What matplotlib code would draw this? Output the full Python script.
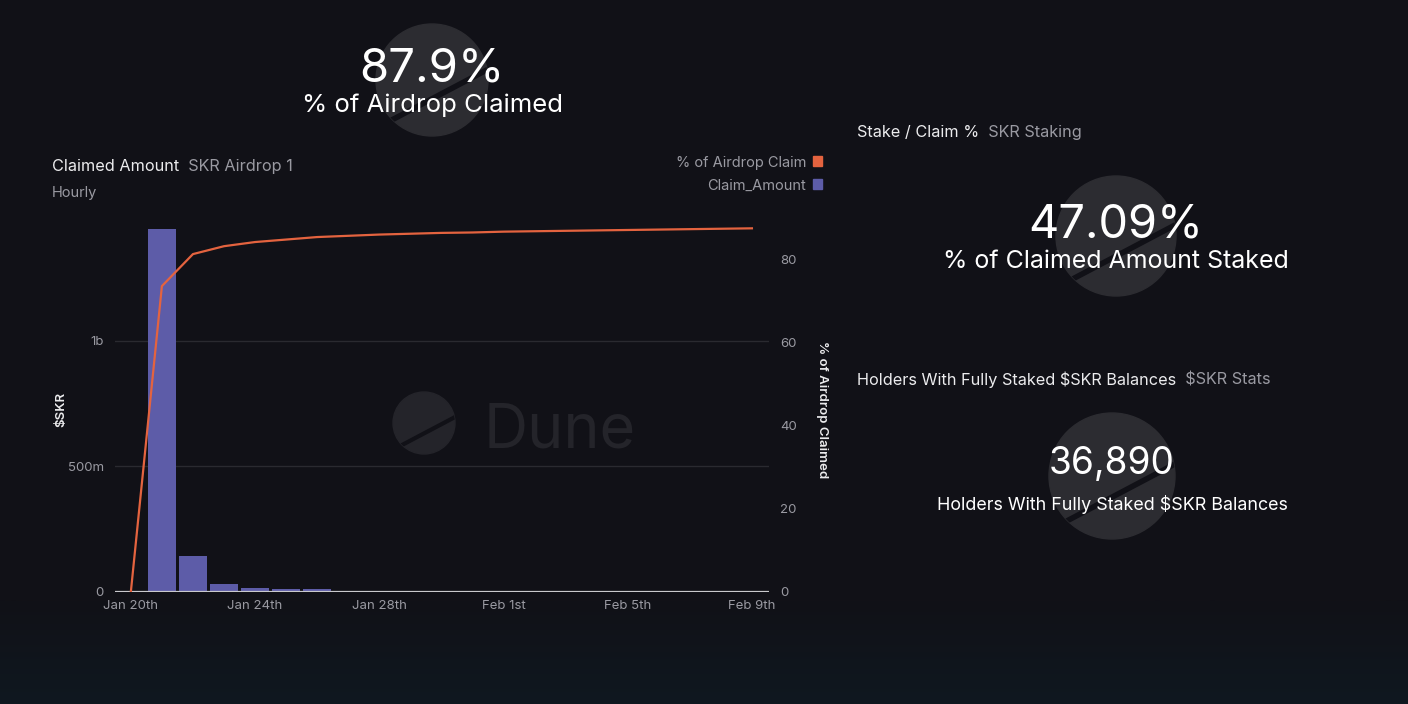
import numpy as np
import matplotlib
matplotlib.use("Agg")
import matplotlib.pyplot as plt
from matplotlib.patches import Circle, Rectangle

plt.rcParams['font.family'] = ['Inter', 'DejaVu Sans']

# --- data ---
days = ["Jan 20", "Jan 21", "Jan 22", "Jan 23", "Jan 24", "Jan 25", "Jan 26",
        "Jan 27", "Jan 28", "Jan 29", "Jan 30", "Jan 31", "Feb 1", "Feb 2",
        "Feb 3", "Feb 4", "Feb 5", "Feb 6", "Feb 7", "Feb 8", "Feb 9"]
claim_amount = [0, 1.446e9, 0.143e9, 0.032e9, 0.015e9, 0.010e9, 0.011e9,
                0.004e9, 0.004e9, 0.002e9, 0.0015e9, 0.0015e9, 0.0012e9, 0.0012e9,
                0.001e9, 0.001e9, 0.001e9, 0.001e9, 0.001e9, 0.001e9, 0.001e9]
pct_claimed = [0, 73.6, 81.3, 83.2, 84.2, 84.8, 85.4, 85.7, 86.0, 86.2, 86.4,
               86.5, 86.7, 86.8, 86.9, 87.0, 87.1, 87.2, 87.3, 87.4, 87.5]
xtick_idx = [0, 4, 8, 12, 16, 20]
xtick_labels = ["Jan 20th", "Jan 24th", "Jan 28th", "Feb 1st", "Feb 5th", "Feb 9th"]
left_ticks = [0, 5e8, 1e9]
left_labels = ["0", "500m", "1b"]
right_ticks = [0, 20, 40, 60, 80]

counters = [
    ("87.9%", "% of Airdrop Claimed"),
    ("47.09%", "% of Claimed Amount Staked"),
    ("36,890", "Holders With Fully Staked \\$SKR Balances"),
]

BG = "#111117"
WHITE = "#ececee"
GRAY = "#9a9aa2"
BAR = "#5d5ca8"
LINE = "#e4633f"
W, H = 1408, 704

fig = plt.figure(figsize=(W / 100, H / 100), dpi=100, facecolor=BG)

# background layer in pixel coordinates (y down)
bg = fig.add_axes([0, 0, 1, 1])
bg.set_xlim(0, W)
bg.set_ylim(H, 0)
bg.axis("off")
bg.set_facecolor(BG)

# subtle bluish fade at the bottom
grad = np.linspace(0, 1, 100)[:, None]
bg.imshow(grad, extent=(0, W, H, 600), cmap=matplotlib.colors.LinearSegmentedColormap.from_list(
    "fade", [BG, "#0f1820"]), aspect="auto", zorder=0)


def dune_logo(cx, cy, r, color, lw):
    c = Circle((cx, cy), r, color=color, zorder=1)
    bg.add_patch(c)
    p1 = np.array([-0.71, 0.71])
    p2 = np.array([0.94, -0.16])
    d = p2 - p1
    a = p1 - 0.6 * d
    b = p2 + 0.6 * d
    ln, = bg.plot([cx + a[0] * r, cx + b[0] * r], [cy + a[1] * r, cy + b[1] * r],
                  color=BG, lw=lw, zorder=2, solid_capstyle="butt")
    ln.set_clip_path(c)


# counter watermarks
dune_logo(432, 80, 56, "#2c2c31", 4)
dune_logo(1116, 236, 60, "#2c2c31", 4)
dune_logo(1112, 476, 63, "#2c2c31", 4)
# chart watermark
dune_logo(424, 423, 31, "#24242a", 3)
bg.text(484, 447, "Dune", fontsize=44, color="#24242a", ha="left", va="baseline", zorder=1)

# counters
bg.text(432, 82, counters[0][0], fontsize=34, color="white", ha="center", va="baseline", zorder=3)
bg.text(432, 112, counters[0][1], fontsize=18.5, color="white", ha="center", va="baseline", zorder=3)
bg.text(1116, 237, counters[1][0], fontsize=33.8, color="white", ha="center", va="baseline", zorder=3)
bg.text(1116, 268, counters[1][1], fontsize=18, color="white", ha="center", va="baseline", zorder=3)
bg.text(1112, 474, counters[2][0], fontsize=26.7, color="white", ha="center", va="baseline", zorder=3)
bg.text(1112, 510, counters[2][1], fontsize=12.9, color="white", ha="center", va="baseline", zorder=3)


def header(x, y, title, sub):
    t = bg.text(x, y, title, fontsize=11.7, color=WHITE, ha="left", va="baseline", zorder=3)
    bg.annotate("  " + sub, xy=(1, 0), xycoords=t, fontsize=11.7, color=GRAY,
                ha="left", va="bottom", zorder=3)


header(52, 171, "Claimed Amount", "SKR Airdrop 1")
bg.text(52, 197, "Hourly", fontsize=10.5, color=GRAY, ha="left", va="baseline")
header(857, 137, "Stake / Claim %", "SKR Staking")
header(857, 385, "Holders With Fully Staked \\$SKR Balances", "\\$SKR Stats")

# legend
bg.text(806, 167, "% of Airdrop Claim", fontsize=10.5, color=GRAY, ha="right", va="baseline")
bg.text(806, 190, "Claim_Amount", fontsize=10.5, color=GRAY, ha="right", va="baseline")
bg.add_patch(Rectangle((813, 156), 9, 10, color=LINE, zorder=3))
bg.add_patch(Rectangle((813, 179), 9, 10, color=BAR, zorder=3))

# axis titles
bg.text(61, 409, "\\$SKR", fontsize=9.5, color=WHITE, weight="semibold",
        rotation=90, ha="center", va="center")
bg.text(822, 410, "% of Airdrop Claimed", fontsize=9.5, color=WHITE, weight="semibold",
        rotation=270, ha="center", va="center")

# --- main chart ---
ax = fig.add_axes([115 / W, 112 / H, 654 / W, 367 / H])
ax.set_facecolor("none")
x = np.arange(len(days))
ax.bar(x, claim_amount, width=0.9, color=BAR, zorder=2)
ax.axhline(0, color="#c9c9cd", lw=1.6, zorder=3)
ax.set_xlim(-0.51, 20.55)
ax.set_ylim(0, 1.462e9)
ax.set_yticks(left_ticks, left_labels)
ax.set_xticks(xtick_idx, xtick_labels)
ax.grid(axis="y", color="#2a2a30", lw=1, zorder=0)
ax.tick_params(length=0, colors=GRAY, labelsize=9.5)
ax.tick_params(axis="y", pad=8)
ax.tick_params(axis="x", pad=6)
for s in ax.spines.values():
    s.set_visible(False)

ax2 = ax.twinx()
ax2.plot(x, pct_claimed, color=LINE, lw=1.6, zorder=4)
ax2.set_ylim(0, 88.3)
ax2.set_yticks(right_ticks)
ax2.tick_params(length=0, colors=GRAY, labelsize=9.5, pad=8)
for s in ax2.spines.values():
    s.set_visible(False)

fig.savefig("out.png", dpi=100, facecolor=BG)
